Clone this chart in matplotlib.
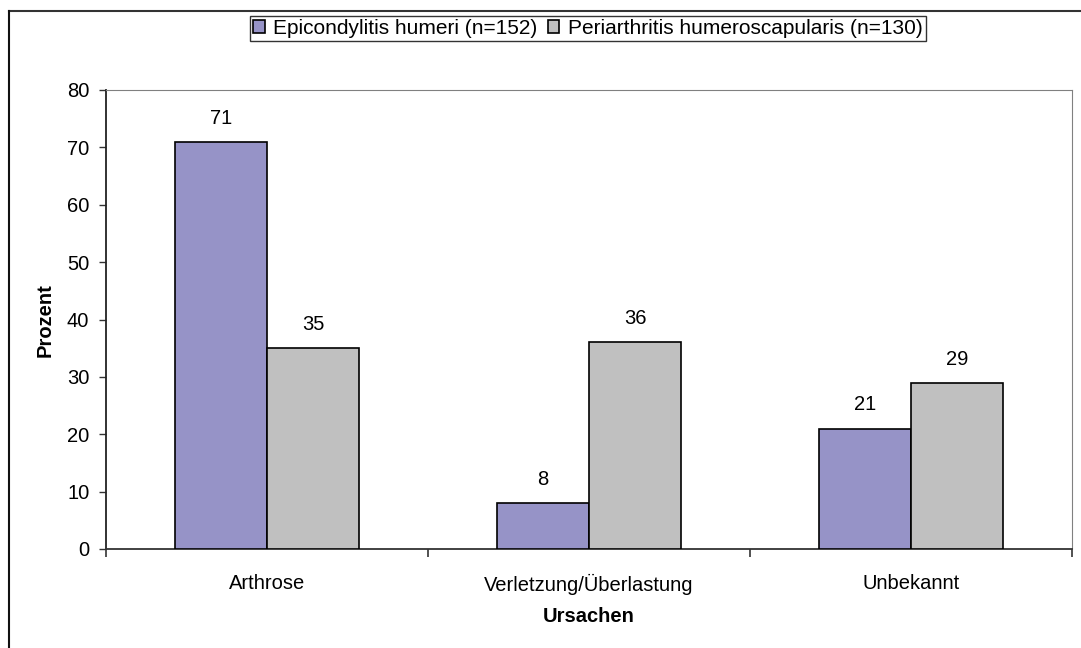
import numpy as np
import matplotlib.pyplot as plt
from matplotlib.lines import Line2D

plt.rcParams['font.family'] = ['Liberation Sans', 'DejaVu Sans']

categories = ['Arthrose', 'Verletzung/Überlastung', 'Unbekannt']
series_names = ['Epicondylitis humeri (n=152)', 'Periarthritis humeroscapularis (n=130)']
epicondylitis = [71, 8, 21]
periarthritis = [35, 36, 29]
colors = ['#9693C7', '#C0C0C0']

W, H = 1081, 648
fig = plt.figure(figsize=(W / 100, H / 100), dpi=100)
ax = fig.add_axes([106 / W, 1 - 549 / H, (1072 - 106) / W, (549 - 90) / H])

x = np.arange(len(categories))
w = 2 / 7
bars = []
for i, (vals, col) in enumerate(zip([epicondylitis, periarthritis], colors)):
    b = ax.bar(x + (i - 0.5) * w, vals, w, color=col, edgecolor='black',
               linewidth=1.2, label=series_names[i], zorder=3)
    bars.append(b)
    for xi, v in zip(x + (i - 0.5) * w, vals):
        ax.annotate(str(v), (xi, v), xytext=(0, 17), textcoords='offset points',
                    ha='center', va='center', fontsize=14.5)

ax.set_xlim(-0.5, 2.5)
ax.set_ylim(0, 80)
ax.set_yticks(range(0, 81, 10))
ax.set_xticks(x)
ax.set_xticklabels(categories, fontsize=14.5)
ax.set_xticks([-0.5, 0.5, 1.5, 2.5], minor=True)
ax.tick_params(axis='x', which='major', length=0, pad=18)
ax.tick_params(axis='x', which='minor', length=6, width=1.2, color='#333333')
ax.tick_params(axis='y', length=5, width=1.0, color='#333333', labelsize=14.5, pad=7)

ax.spines['left'].set_color('#222222')
ax.spines['bottom'].set_color('#333333')
ax.spines['left'].set_linewidth(1.3)
ax.spines['bottom'].set_linewidth(1.3)
ax.spines['top'].set_color('#808080')
ax.spines['right'].set_color('#808080')

fig.text(589 / W, 1 - 616 / H, 'Ursachen', ha='center', va='center',
         fontsize=14.5, fontweight='bold')
fig.text(45 / W, 1 - 320 / H, 'Prozent', ha='center', va='center',
         fontsize=14.5, fontweight='bold', rotation=90)

leg = fig.legend(handles=bars, labels=series_names, loc='center',
                 bbox_to_anchor=(588 / W, 1 - 28.5 / H), ncol=2, fontsize=15,
                 frameon=True, fancybox=False, edgecolor='black', handlelength=0.55,
                 handleheight=0.55, handletextpad=0.4, columnspacing=0.5,
                 borderpad=0.15, borderaxespad=0)
leg.get_frame().set_linewidth(1.0)

# outer chart frame
fig.add_artist(Line2D([8.5 / W, 1.0], [1 - 10.5 / H] * 2, transform=fig.transFigure,
                      color='#333333', linewidth=1.5))
fig.add_artist(Line2D([8.5 / W] * 2, [0, 1 - 10.5 / H], transform=fig.transFigure,
                      color='#111111', linewidth=1.5))

fig.savefig('out.png', dpi=100)
